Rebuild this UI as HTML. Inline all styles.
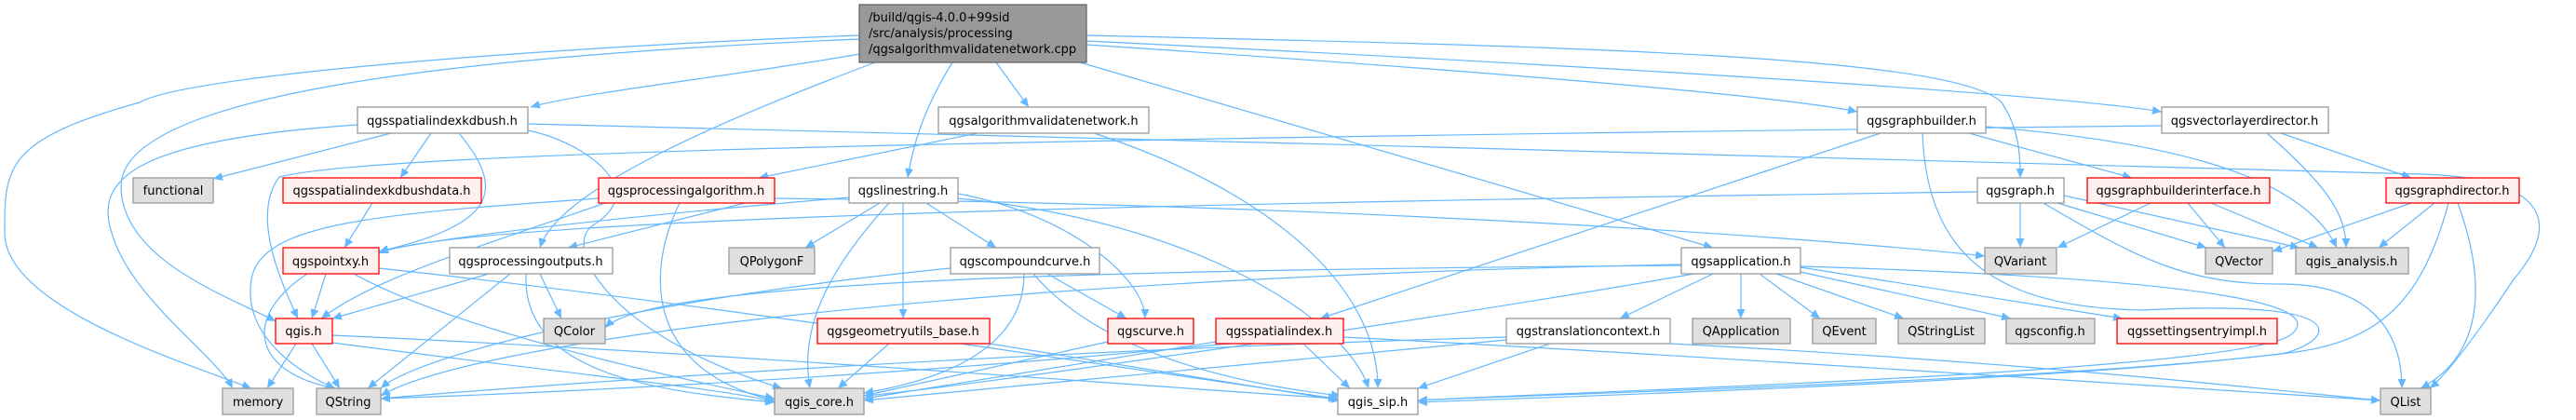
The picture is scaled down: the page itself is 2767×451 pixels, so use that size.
<!DOCTYPE html>
<html><head><meta charset="utf-8"><style>
html,body{margin:0;padding:0;background:#fff;}
svg{display:block;}
text{font-family:"DejaVu Sans","Liberation Sans",sans-serif;font-size:13px;fill:#000;}
.e{fill:none;stroke:#63b8ff;stroke-width:1.2;marker-end:url(#a);}
.w{fill:#fff;stroke:#999;stroke-width:1.3;}
.g{fill:#e0e0e0;stroke:#999;stroke-width:1.3;}
.r{fill:#fff0f0;stroke:#ff0000;stroke-width:1.3;}
</style></head><body>
<svg width="2767" height="451" viewBox="0 0 2767 451" xmlns="http://www.w3.org/2000/svg">
<defs><marker id="a" markerUnits="userSpaceOnUse" markerWidth="11" markerHeight="10" refX="10" refY="4.5" orient="auto"><path d="M0,0 L10,4.5 L0,9 z" fill="#63b8ff"/></marker></defs>
<g>
<path class="e" d="M923 58 C800 80 620 100 570 115"/>
<path class="e" d="M923 42 C500 60 130 100 130 200 C130 280 250 320 296 345"/>
<path class="e" d="M923 38 C600 50 200 80 150 110 C5 150 5 180 5 250 C5 330 200 390 270 417"/>
<path class="e" d="M940 67 C800 120 600 200 580 266"/>
<path class="e" d="M1070 67 L1105 115"/>
<path class="e" d="M1023 67 C990 120 980 160 975 191"/>
<path class="e" d="M1160 67 L1840 266"/>
<path class="e" d="M1167 48 C1500 70 1900 100 1995 120"/>
<path class="e" d="M1167 44 C1700 70 2200 100 2322 120"/>
<path class="e" d="M1167 38 C1700 50 2100 60 2150 110 C2170 140 2170 170 2170 191"/>
<path class="e" d="M420 143 L229 192"/>
<path class="e" d="M463 143 L430 191"/>
<path class="e" d="M493 143 C540 200 540 240 407 270"/>
<path class="e" d="M384 134 C150 150 100 190 120 250 C140 320 230 380 250 417"/>
<path class="e" d="M567 140 C620 150 700 200 640 240 C600 260 650 360 840 417"/>
<path class="e" d="M567 133 C1200 150 2500 180 2600 187 C2720 190 2760 230 2700 300 C2660 360 2630 400 2610 417"/>
<path class="e" d="M400 218 L370 266"/>
<path class="e" d="M800 218 L610 266"/>
<path class="e" d="M650 218 C500 270 400 300 345 342"/>
<path class="e" d="M643 213 C400 230 280 240 270 300 C260 360 320 400 360 417"/>
<path class="e" d="M730 218 C690 300 700 400 832 430"/>
<path class="e" d="M832 213 C1500 220 2000 260 2132 275"/>
<path class="e" d="M1050 143 L815 191"/>
<path class="e" d="M1175 143 C1350 200 1480 300 1480 417"/>
<path class="e" d="M945 218 L865 266"/>
<path class="e" d="M995 218 L1070 266"/>
<path class="e" d="M970 218 L970 342"/>
<path class="e" d="M1029 208 C1150 230 1230 300 1230 342"/>
<path class="e" d="M955 218 C880 300 860 360 870 417"/>
<path class="e" d="M912 212 C700 230 500 250 407 270"/>
<path class="e" d="M1029 213 C1300 240 1450 350 1470 417"/>
<path class="e" d="M1125 294 L1210 342"/>
<path class="e" d="M1100 294 C1100 380 1000 410 928 422"/>
<path class="e" d="M1110 294 C1200 400 1400 420 1440 425"/>
<path class="e" d="M1021 288 C700 320 450 380 409 417"/>
<path class="e" d="M955 369 L900 417"/>
<path class="e" d="M1063 369 L1440 430"/>
<path class="e" d="M1190 367 L928 425"/>
<path class="e" d="M1306 367 L928 428"/>
<path class="e" d="M1400 369 L1450 417"/>
<path class="e" d="M1443 362 C1800 380 2400 420 2557 430"/>
<path class="e" d="M1320 369 C900 410 500 425 409 428"/>
<path class="e" d="M350 294 L335 342"/>
<path class="e" d="M330 294 C260 340 270 400 360 417"/>
<path class="e" d="M380 294 C500 360 750 410 832 428"/>
<path class="e" d="M407 288 C800 330 1300 410 1437 428"/>
<path class="e" d="M525 294 L357 342"/>
<path class="e" d="M548 294 L395 417"/>
<path class="e" d="M580 294 L603 342"/>
<path class="e" d="M565 294 C560 400 700 420 832 432"/>
<path class="e" d="M318 369 L287 417"/>
<path class="e" d="M335 369 L365 417"/>
<path class="e" d="M357 368 C600 400 800 420 832 432"/>
<path class="e" d="M357 360 C800 380 1300 420 1437 428"/>
<path class="e" d="M1840 294 L1740 342"/>
<path class="e" d="M1870 294 L1870 342"/>
<path class="e" d="M1890 294 L1955 342"/>
<path class="e" d="M1908 294 L2045 342"/>
<path class="e" d="M1934 292 L2160 342"/>
<path class="e" d="M1934 287 L2280 342"/>
<path class="e" d="M1806 285 C1200 290 700 300 650 352"/>
<path class="e" d="M1806 284 C1000 300 500 370 409 425"/>
<path class="e" d="M1820 294 C1500 350 1000 420 928 425"/>
<path class="e" d="M1934 286 C2400 300 2500 330 2460 360 C2400 400 1700 420 1523 430"/>
<path class="e" d="M1665 369 L1523 417"/>
<path class="e" d="M1618 362 C1000 380 500 420 409 428"/>
<path class="e" d="M1618 365 L928 430"/>
<path class="e" d="M1794 369 C2200 390 2450 420 2557 430"/>
<path class="e" d="M2020 143 L1418 342"/>
<path class="e" d="M2115 143 L2290 191"/>
<path class="e" d="M2133 136 C2300 150 2470 180 2510 266"/>
<path class="e" d="M2065 143 C2070 280 2150 330 2300 333 C2550 320 2500 370 2450 380 C2200 410 1600 425 1523 430"/>
<path class="e" d="M2322 135 C1000 150 400 165 300 190 C270 230 300 300 320 342"/>
<path class="e" d="M2450 143 L2590 191"/>
<path class="e" d="M2435 143 C2500 200 2520 230 2520 266"/>
<path class="e" d="M2170 218 L2170 266"/>
<path class="e" d="M2210 218 L2370 266"/>
<path class="e" d="M2217 210 L2470 266"/>
<path class="e" d="M2195 218 C2300 280 2350 305 2450 305 C2540 305 2580 350 2580 417"/>
<path class="e" d="M2124 206 C1500 215 500 230 407 272"/>
<path class="e" d="M2310 218 L2210 266"/>
<path class="e" d="M2350 218 L2390 266"/>
<path class="e" d="M2375 218 L2490 266"/>
<path class="e" d="M2590 218 L2441 270"/>
<path class="e" d="M2615 218 L2555 266"/>
<path class="e" d="M2640 218 C2670 300 2670 380 2600 417"/>
<path class="e" d="M2630 218 C2600 330 2550 370 2450 380 C2200 410 1700 425 1523 432"/>
</g>
<g>
<rect x="923" y="5" width="244" height="62" fill="#999" stroke="#666" stroke-width="1.3"/>
<text x="933" y="23">/build/qgis-4.0.0+99sid</text>
<text x="933" y="40">/src/analysis/processing</text>
<text x="933" y="57">/qgsalgorithmvalidatenetwork.cpp</text>
</g>
<g text-anchor="middle">
<rect class="w" x="384" y="115" width="183" height="28"/><text x="475" y="134">qgsspatialindexkdbush.h</text>
<rect class="w" x="1008" y="115" width="226" height="28"/><text x="1121" y="134">qgsalgorithmvalidatenetwork.h</text>
<rect class="w" x="1995" y="115" width="138" height="28"/><text x="2064" y="134">qgsgraphbuilder.h</text>
<rect class="w" x="2322" y="115" width="179" height="28"/><text x="2411" y="134">qgsvectorlayerdirector.h</text>
<rect class="g" x="143" y="191" width="86" height="27"/><text x="186" y="209">functional</text>
<rect class="r" x="304" y="191" width="213" height="27"/><text x="410" y="209">qgsspatialindexkdbushdata.h</text>
<rect class="r" x="643" y="191" width="189" height="27"/><text x="737" y="209">qgsprocessingalgorithm.h</text>
<rect class="w" x="912" y="191" width="117" height="27"/><text x="970" y="209">qgslinestring.h</text>
<rect class="w" x="2124" y="191" width="93" height="27"/><text x="2170" y="209">qgsgraph.h</text>
<rect class="r" x="2242" y="191" width="196" height="27"/><text x="2340" y="209">qgsgraphbuilderinterface.h</text>
<rect class="r" x="2563" y="191" width="143" height="27"/><text x="2634" y="209">qgsgraphdirector.h</text>
<rect class="r" x="304" y="266" width="103" height="28"/><text x="355" y="285">qgspointxy.h</text>
<rect class="w" x="483" y="266" width="175" height="28"/><text x="570" y="285">qgsprocessingoutputs.h</text>
<rect class="g" x="783" y="266" width="92" height="28"/><text x="829" y="285">QPolygonF</text>
<rect class="w" x="1021" y="266" width="160" height="28"/><text x="1101" y="285">qgscompoundcurve.h</text>
<rect class="w" x="1806" y="266" width="128" height="28"/><text x="1870" y="285">qgsapplication.h</text>
<rect class="g" x="2132" y="266" width="77" height="28"/><text x="2170" y="285">QVariant</text>
<rect class="g" x="2369" y="266" width="72" height="28"/><text x="2405" y="285">QVector</text>
<rect class="g" x="2466" y="266" width="121" height="28"/><text x="2526" y="285">qgis_analysis.h</text>
<rect class="r" x="296" y="342" width="61" height="27"/><text x="326" y="360">qgis.h</text>
<rect class="g" x="584" y="342" width="66" height="27"/><text x="617" y="360">QColor</text>
<rect class="r" x="878" y="342" width="185" height="27"/><text x="970" y="360">qgsgeometryutils_base.h</text>
<rect class="r" x="1190" y="342" width="92" height="27"/><text x="1236" y="360">qgscurve.h</text>
<rect class="r" x="1306" y="342" width="137" height="27"/><text x="1374" y="360">qgsspatialindex.h</text>
<rect class="w" x="1618" y="342" width="176" height="27"/><text x="1706" y="360">qgstranslationcontext.h</text>
<rect class="g" x="1818" y="342" width="105" height="27"/><text x="1870" y="360">QApplication</text>
<rect class="g" x="1947" y="342" width="68" height="27"/><text x="1981" y="360">QEvent</text>
<rect class="g" x="2039" y="342" width="93" height="27"/><text x="2085" y="360">QStringList</text>
<rect class="g" x="2155" y="342" width="95" height="27"/><text x="2202" y="360">qgsconfig.h</text>
<rect class="r" x="2274" y="342" width="172" height="27"/><text x="2360" y="360">qgssettingsentryimpl.h</text>
<rect class="g" x="239" y="417" width="76" height="28"/><text x="277" y="436">memory</text>
<rect class="g" x="340" y="417" width="69" height="28"/><text x="374" y="436">QString</text>
<rect class="g" x="832" y="417" width="96" height="28"/><text x="880" y="436">qgis_core.h</text>
<rect class="w" x="1437" y="417" width="86" height="28"/><text x="1480" y="436">qgis_sip.h</text>
<rect class="g" x="2557" y="417" width="54" height="28"/><text x="2584" y="436">QList</text>
</g>
</svg>
</body></html>
